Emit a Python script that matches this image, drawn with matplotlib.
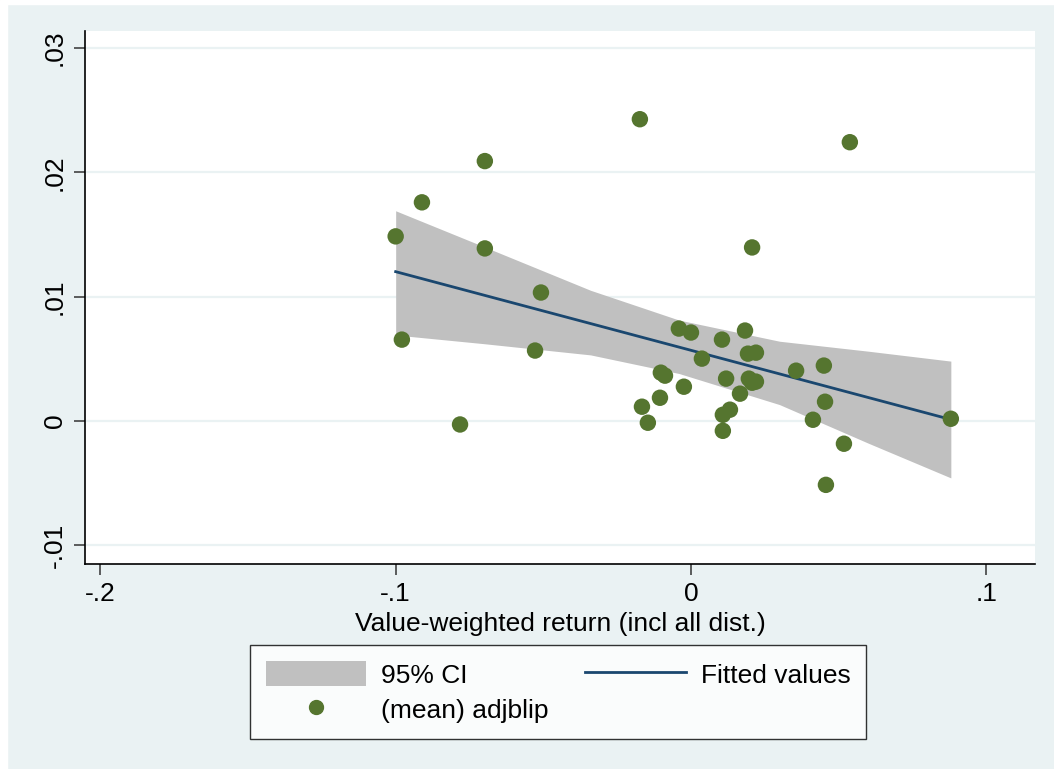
import matplotlib
matplotlib.use("Agg")
import matplotlib.pyplot as plt
from matplotlib.patches import Patch, Rectangle
from matplotlib.lines import Line2D

plt.rcParams['font.family'] = ['Liberation Sans', 'DejaVu Sans']

# scatter data: (mean) adjblip vs value-weighted return
ret = [-0.1000, -0.0979, -0.0911, -0.0782, -0.0698, -0.0698, -0.0508, -0.0528,
       -0.0173, -0.0166, -0.0146, -0.0105, -0.0102, -0.0088, -0.0041, -0.0024,
       0.0000, 0.0037, 0.0105, 0.0108, 0.0108, 0.0119, 0.0132, 0.0166,
       0.0183, 0.0193, 0.0196, 0.0207, 0.0207, 0.0220, 0.0220, 0.0356,
       0.0413, 0.0450, 0.0454, 0.0457, 0.0518, 0.0538, 0.0880]
adjblip = [0.01484, 0.00653, 0.01758, -0.00030, 0.02090, 0.01387, 0.01032, 0.00565,
           0.02427, 0.00113, -0.00016, 0.00185, 0.00387, 0.00363, 0.00742, 0.00274,
           0.00710, 0.00500, 0.00653, 0.00048, -0.00081, 0.00339, 0.00089, 0.00218,
           0.00726, 0.00540, 0.00339, 0.01395, 0.00306, 0.00548, 0.00315, 0.00403,
           0.00008, 0.00444, 0.00153, -0.00516, -0.00185, 0.02242, 0.00016]

# fitted values line
fit_x = [-0.100, 0.088]
fit_y = [0.0120, 0.0001]

# 95% CI band
ci_x = [-0.100, -0.070, -0.034, -0.004, 0.030, 0.060, 0.088]
ci_hi = [0.0169, 0.0140, 0.0105, 0.0081, 0.0064, 0.0056, 0.0048]
ci_lo = [0.0069, 0.0062, 0.0053, 0.0038, 0.0013, -0.0018, -0.0046]

xticks = [-0.2, -0.1, 0.0, 0.1]
xtick_labels = ['-.2', '-.1', '0', '.1']
yticks = [-0.01, 0.0, 0.01, 0.02, 0.03]
ytick_labels = ['-.01', '0', '.01', '.02', '.03']

BG = '#EAF2F3'
NAVY = '#1A476F'
GREEN = '#55752F'
GRAY = '#C0C0C0'
FS = 19

fig = plt.figure(figsize=(10.54, 7.69), dpi=100, facecolor=BG)
# thin white outer border (left/top)
fig.patches.append(Rectangle((0, 0), 7/1054, 1, transform=fig.transFigure, color='white', zorder=0))
fig.patches.append(Rectangle((0, 1 - 4/769), 1, 4/769, transform=fig.transFigure, color='white', zorder=0))

ax = fig.add_axes([85/1054, 1 - 564/769, (1035 - 85)/1054, (564 - 31)/769])
ax.set_facecolor('white')
ax.set_xlim(-0.2052, 0.1165)
ax.set_ylim(-0.01153, 0.03137)

for yt in yticks:
    ax.axhline(yt, color=BG, lw=1.6, zorder=0)

ax.fill_between(ci_x, ci_lo, ci_hi, color=GRAY, lw=0, zorder=1)
ax.plot(fit_x, fit_y, color=NAVY, lw=2, zorder=2)
ax.scatter(ret, adjblip, s=140, color=GREEN, edgecolors='none', zorder=3)

for s in ['top', 'right']:
    ax.spines[s].set_visible(False)
for s in ['left', 'bottom']:
    ax.spines[s].set_color('black')
    ax.spines[s].set_linewidth(1.2)

ax.set_xticks(xticks)
ax.set_xticklabels(xtick_labels)
ax.set_yticks(yticks)
ax.set_yticklabels(ytick_labels, rotation=90, va='center')
ax.tick_params(axis='both', direction='out', length=8, width=1.1, color='#333333',
               labelsize=FS, pad=5)
ax.set_xlabel('Value-weighted return (incl all dist.)', fontsize=FS, labelpad=4)

handles = [Patch(facecolor=GRAY, edgecolor='none'),
           Line2D([], [], ls='none', marker='o', markersize=10, color=GREEN),
           Line2D([], [], color=NAVY, lw=2)]
labels = ['95% CI', '(mean) adjblip', 'Fitted values']
leg = fig.legend(handles, labels, ncol=2, loc='center', bbox_to_anchor=(558/1054, 1 - 692/769),
                 fontsize=FS, frameon=True, fancybox=False, edgecolor='black',
                 handlelength=3.8, handleheight=1.06, handletextpad=0.57, columnspacing=1.4,
                 borderpad=0.6, labelspacing=0.33, borderaxespad=0)
leg.get_frame().set_linewidth(1.0)
leg.get_frame().set_facecolor('white')

fig.savefig('out.png', dpi=100, facecolor=BG)
